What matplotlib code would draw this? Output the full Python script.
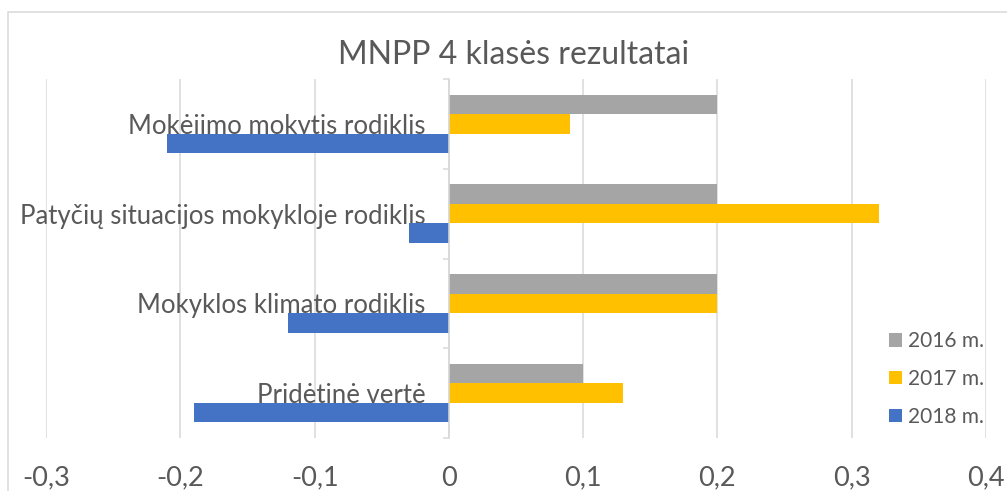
import matplotlib

matplotlib.use("Agg")
import matplotlib.pyplot as plt
from matplotlib.patches import Patch, Rectangle

plt.rcParams["font.family"] = ["Lato", "DejaVu Sans"]

# --- data ------------------------------------------------------------------
categories = [
    "Pridėtinė vertė",
    "Mokyklos klimato rodiklis",
    "Patyčių situacijos mokykloje rodiklis",
    "Mokėjimo mokytis rodiklis",
]
series_names = ["2016 m.", "2017 m.", "2018 m."]
values_2016 = [0.10, 0.20, 0.20, 0.20]
values_2017 = [0.13, 0.20, 0.32, 0.09]
values_2018 = [-0.19, -0.12, -0.03, -0.21]
xticks = [-0.3, -0.2, -0.1, 0, 0.1, 0.2, 0.3, 0.4]
xtick_labels = ["-0,3", "-0,2", "-0,1", "0", "0,1", "0,2", "0,3", "0,4"]
title = "MNPP 4 klasės rezultatai"

colors = ["#a5a5a5", "#ffc000", "#4472c4"]
text_c = "#595959"
grid_c = "#d9d9d9"

W, H = 1007, 491
fig = plt.figure(figsize=(W / 100, H / 100), dpi=100)
ax = fig.add_axes([46 / W, 1 - 438 / H, (986 - 46) / W, (438 - 79) / H])

h = 0.217
ypos = range(len(categories))
for k, (vals, off) in enumerate(zip([values_2016, values_2017, values_2018], [h, 0, -h])):
    ax.barh([y + off for y in ypos], vals, height=h, color=colors[k], zorder=1)

ax.set_xlim(-0.3, 0.4)
ax.set_ylim(-0.5, 3.5)
ax.set_axisbelow(True)
ax.grid(axis="x", color=grid_c, lw=1.1)

ax.set_xticks(xticks)
ax.set_xticklabels(xtick_labels)
ax.tick_params(axis="x", length=0, pad=20, labelsize=19.5, labelcolor=text_c)

ax.set_yticks(list(ypos))
ax.set_yticklabels(categories)
ax.set_yticks([y - 0.5 for y in range(len(categories) + 1)], minor=True)
ax.tick_params(axis="y", which="major", length=0, pad=17, labelsize=18.5, labelcolor=text_c)
ax.tick_params(axis="y", which="minor", length=4.5, width=1.1, color=grid_c, direction="out")

for s in ("top", "right", "bottom"):
    ax.spines[s].set_visible(False)
ax.spines["left"].set_position(("data", 0))
ax.spines["left"].set_color(grid_c)
ax.spines["left"].set_linewidth(1.1)

fig.text(514 / W, 1 - 55 / H, title, ha="center", va="center", size=23, color=text_c)

handles = [Patch(facecolor=c, edgecolor="none") for c in colors]
ax.legend(handles, series_names, loc="center left", bbox_to_anchor=(889 / W, 1 - 379 / H),
          bbox_transform=fig.transFigure, frameon=False, fontsize=15, labelcolor=text_c,
          handlelength=0.6, handleheight=0.6, handletextpad=0.3, labelspacing=0.85,
          borderpad=0, borderaxespad=0)

# chart border
fig.patches.append(Rectangle((8 / W, -0.1), 1.2, 1.1 - 12 / H, transform=fig.transFigure,
                             fill=False, edgecolor=grid_c, lw=1.1))

fig.savefig("out.png", dpi=100)
